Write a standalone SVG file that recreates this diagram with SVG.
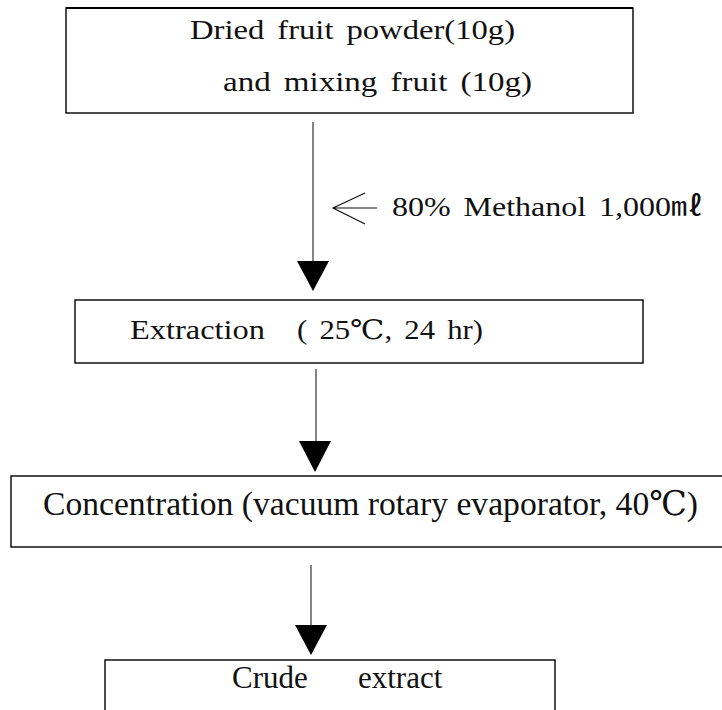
<svg xmlns="http://www.w3.org/2000/svg" width="722" height="710" viewBox="0 0 722 710">
<defs>
<style>
.box{fill:#fff;stroke:#000;stroke-width:1.4}
.t{font-family:"Liberation Serif","DejaVu Serif","Noto Sans CJK KR",serif;fill:#111}
.m{font-size:27px;word-spacing:4px}
.ln{stroke:#333;stroke-width:1.2;fill:none}
.ah{fill:#000}
</style>
</defs>
<rect width="722" height="710" fill="#fff"/>
<g id="connectors">
<line class="ln" x1="313" y1="122" x2="313" y2="262"/>
<polygon class="ah" points="297,261 329,261 313,291"/>
<line class="ln" x1="316" y1="369" x2="316" y2="442"/>
<polygon class="ah" points="299,441 331,441 315,472"/>
<line class="ln" x1="311" y1="565" x2="311" y2="626"/>
<polygon class="ah" points="295,625 327,625 311,655"/>
</g>
<g id="methanol">
<path d="M365,193 L333,208 L365,224 M333,208 L377,208" fill="none" stroke="#111" stroke-width="1.2"/>
<text class="t m" x="392" y="216" textLength="311" lengthAdjust="spacingAndGlyphs">80% Methanol 1,000㎖</text>
</g>
<g id="n1">
<rect class="box" x="66" y="8" width="567" height="105"/>
<rect x="66" y="7" width="567" height="2" fill="#000"/>
<text class="t m" x="190" y="39" textLength="325" lengthAdjust="spacingAndGlyphs">Dried fruit powder(10g)</text>
<text class="t m" x="223" y="91" textLength="309" lengthAdjust="spacingAndGlyphs">and mixing fruit (10g)</text>
</g>
<g id="n2">
<rect class="box" x="75" y="300" width="568" height="63"/>
<text class="t m" y="339"><tspan x="130" textLength="135" lengthAdjust="spacingAndGlyphs">Extraction</tspan><tspan x="297" textLength="186" lengthAdjust="spacingAndGlyphs">( 25℃, 24 hr)</tspan></text>
</g>
<g id="n3">
<rect class="box" x="11" y="476" width="730" height="71"/>
<text class="t" x="43" y="515" font-size="34" textLength="655" lengthAdjust="spacingAndGlyphs">Concentration (vacuum rotary evaporator, 40℃)</text>
</g>
<g id="n4">
<rect class="box" x="105" y="660" width="450" height="70"/>
<text class="t" y="688" font-size="31"><tspan x="232">Crude</tspan><tspan x="358">extract</tspan></text>
</g>
</svg>
